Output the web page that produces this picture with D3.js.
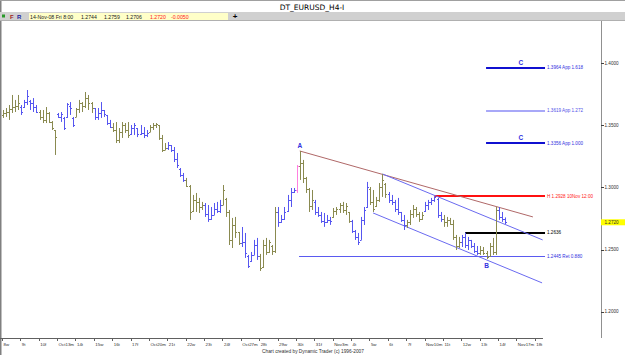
<!DOCTYPE html>
<html>
<head>
<meta charset="utf-8">
<script src="https://cdn.jsdelivr.net/npm/d3@7"></script>
<style>
  body { margin: 0; background: #fff; }
  svg { display: block; font-family: "Liberation Sans", Arial, sans-serif; }
</style>
</head>
<body>
<svg id="chart" width="625" height="355"></svg>
<script>
const width = 625, height = 355;

// Time axis labels, one per trading day
const dayLabels = ["8w", "9t", "10f", "Oct13m", "14t", "15w", "16t", "17f", "Oct20m", "21t",
  "22w", "23t", "24f", "Oct27m", "28t", "29w", "30t", "31f", "Nov3m", "4t",
  "5w", "6t", "7f", "Nov10m", "11t", "12w", "13t", "14f", "Nov17m", "18t"];

// 4-hour bars grouped by day: [open, high, low, close]
const bars = [
  [[1.3580,1.3624,1.3560,1.3600],[1.3600,1.3640,1.3568,1.3610],[1.3610,1.3664,1.3544,1.3630],[1.3630,1.3745,1.3600,1.3650],[1.3650,1.3705,1.3608,1.3660],[1.3660,1.3745,1.3624,1.3680]],
  [[1.3650,1.3664,1.3584,1.3610],[1.3645,1.3705,1.3640,1.3690],[1.3690,1.3785,1.3664,1.3740],[1.3700,1.3705,1.3624,1.3680],[1.3680,1.3720,1.3608,1.3650],[1.3650,1.3664,1.3600,1.3610]],
  [[1.3610,1.3624,1.3544,1.3570],[1.3570,1.3624,1.3519,1.3540],[1.3540,1.3648,1.3519,1.3600],[1.3600,1.3608,1.3519,1.3530],[1.3530,1.3535,1.3463,1.3480],[1.3463,1.3463,1.3262,1.3405]],
  [[1.3590,1.3600,1.3560,1.3570],[1.3570,1.3608,1.3528,1.3590],[1.3560,1.3568,1.3463,1.3480],[1.3570,1.3680,1.3560,1.3670],[1.3660,1.3688,1.3584,1.3640],[1.3560,1.3568,1.3487,1.3500]],
  [[1.3570,1.3640,1.3568,1.3630],[1.3630,1.3705,1.3600,1.3680],[1.3680,1.3688,1.3608,1.3660],[1.3660,1.3769,1.3640,1.3720],[1.3720,1.3745,1.3624,1.3680],[1.3680,1.3688,1.3600,1.3640]],
  [[1.3640,1.3640,1.3544,1.3570],[1.3570,1.3640,1.3544,1.3600],[1.3600,1.3688,1.3560,1.3620],[1.3620,1.3624,1.3568,1.3590],[1.3580,1.3584,1.3503,1.3520],[1.3520,1.3544,1.3479,1.3490]],
  [[1.3490,1.3519,1.3447,1.3460],[1.3460,1.3527,1.3358,1.3380],[1.3380,1.3479,1.3358,1.3450],[1.3450,1.3527,1.3399,1.3500],[1.3500,1.3519,1.3439,1.3460],[1.3460,1.3527,1.3399,1.3420]],
  [[1.3430,1.3503,1.3423,1.3480],[1.3480,1.3519,1.3423,1.3500],[1.3479,1.3479,1.3406,1.3430],[1.3430,1.3503,1.3423,1.3440],[1.3440,1.3487,1.3398,1.3420],[1.3420,1.3463,1.3406,1.3440]],
  [[1.3450,1.3503,1.3447,1.3490],[1.3490,1.3519,1.3463,1.3500],[1.3500,1.3519,1.3479,1.3510],[1.3500,1.3503,1.3383,1.3400],[1.3400,1.3423,1.3286,1.3300],[1.3305,1.3358,1.3302,1.3320]],
  [[1.3320,1.3366,1.3302,1.3340],[1.3340,1.3342,1.3286,1.3300],[1.3300,1.3326,1.3205,1.3230],[1.3230,1.3278,1.3157,1.3180],[1.3150,1.3157,1.3085,1.3100],[1.3100,1.3117,1.3045,1.3060]],
  [[1.3060,1.3077,1.3004,1.3010],[1.3010,1.3020,1.2739,1.2800],[1.2810,1.2940,1.2803,1.2900],[1.2900,1.2956,1.2803,1.2880],[1.2880,1.2916,1.2795,1.2840],[1.2840,1.2884,1.2819,1.2860]],
  [[1.2860,1.2875,1.2763,1.2790],[1.2790,1.2859,1.2723,1.2750],[1.2750,1.2843,1.2739,1.2780],[1.2780,1.2875,1.2779,1.2830],[1.2830,1.2884,1.2795,1.2810],[1.2810,1.2900,1.2795,1.2860]],
  [[1.2860,1.3020,1.2859,1.2980],[1.2910,1.2916,1.2763,1.2800],[1.2800,1.2819,1.2537,1.2580],[1.2580,1.2755,1.2513,1.2700],[1.2700,1.2763,1.2594,1.2640],[1.2640,1.2642,1.2537,1.2550]],
  [[1.2550,1.2682,1.2521,1.2560],[1.2560,1.2634,1.2433,1.2470],[1.2450,1.2457,1.2352,1.2370],[1.2410,1.2481,1.2401,1.2460],[1.2460,1.2578,1.2457,1.2540],[1.2540,1.2594,1.2417,1.2450]],
  [[1.2450,1.2465,1.2328,1.2350],[1.2360,1.2578,1.2352,1.2540],[1.2540,1.2594,1.2457,1.2480],[1.2480,1.2578,1.2473,1.2560],[1.2530,1.2537,1.2457,1.2490],[1.2490,1.2843,1.2473,1.2800]],
  [[1.2800,1.2843,1.2683,1.2720],[1.2720,1.2779,1.2715,1.2750],[1.2750,1.2843,1.2739,1.2800],[1.2810,1.2940,1.2803,1.2900],[1.2900,1.2996,1.2843,1.2960],[1.2960,1.2996,1.2956,1.2980]],
  [[1.2980,1.3181,1.2956,1.3170],[1.3170,1.3294,1.3061,1.3200],[1.3200,1.3222,1.3036,1.3080],[1.3080,1.3085,1.2956,1.2990],[1.2990,1.2996,1.2803,1.2850],[1.2850,1.2980,1.2819,1.2900]],
  [[1.2880,1.2900,1.2779,1.2800],[1.2800,1.2843,1.2763,1.2780],[1.2780,1.2803,1.2715,1.2730],[1.2730,1.2795,1.2683,1.2720],[1.2720,1.2779,1.2715,1.2740],[1.2740,1.2763,1.2699,1.2730]],
  [[1.2760,1.2835,1.2755,1.2810],[1.2810,1.2843,1.2779,1.2830],[1.2830,1.2875,1.2795,1.2860],[1.2860,1.2884,1.2795,1.2820],[1.2820,1.2875,1.2779,1.2850],[1.2800,1.2803,1.2715,1.2730]],
  [[1.2730,1.2739,1.2634,1.2650],[1.2650,1.2658,1.2578,1.2600],[1.2600,1.2634,1.2537,1.2560],[1.2580,1.2763,1.2578,1.2740],[1.2740,1.2843,1.2698,1.2820],[1.2840,1.3045,1.2835,1.3000]],
  [[1.2990,1.3004,1.2859,1.2880],[1.2880,1.2980,1.2803,1.2830],[1.2850,1.2924,1.2843,1.2900],[1.2900,1.3036,1.2884,1.3000],[1.3000,1.3109,1.2924,1.3060],[1.3030,1.3036,1.2916,1.2950]],
  [[1.2950,1.2964,1.2875,1.2900],[1.2900,1.2940,1.2859,1.2880],[1.2880,1.2900,1.2803,1.2830],[1.2830,1.2916,1.2779,1.2800],[1.2800,1.2803,1.2723,1.2740],[1.2740,1.2779,1.2658,1.2700]],
  [[1.2700,1.2739,1.2674,1.2720],[1.2720,1.2819,1.2698,1.2790],[1.2790,1.2859,1.2755,1.2830],[1.2830,1.2843,1.2763,1.2790],[1.2790,1.2803,1.2723,1.2750],[1.2750,1.2803,1.2739,1.2780]],
  [[1.2810,1.2884,1.2803,1.2860],[1.2860,1.2900,1.2819,1.2880],[1.2880,1.2916,1.2859,1.2900],[1.2900,1.2928,1.2884,1.2920],[1.2910,1.2916,1.2755,1.2780],[1.2780,1.2803,1.2723,1.2750]],
  [[1.2750,1.2779,1.2683,1.2720],[1.2720,1.2763,1.2683,1.2740],[1.2740,1.2755,1.2699,1.2710],[1.2710,1.2739,1.2578,1.2600],[1.2600,1.2618,1.2497,1.2530],[1.2530,1.2602,1.2513,1.2560]],
  [[1.2560,1.2618,1.2521,1.2600],[1.2600,1.2636,1.2513,1.2540],[1.2540,1.2602,1.2497,1.2580],[1.2575,1.2578,1.2513,1.2530],[1.2530,1.2553,1.2473,1.2490],[1.2490,1.2529,1.2457,1.2470]],
  [[1.2470,1.2529,1.2457,1.2500],[1.2500,1.2521,1.2457,1.2470],[1.2470,1.2489,1.2424,1.2440],[1.2450,1.2553,1.2441,1.2530],[1.2530,1.2594,1.2457,1.2480],[1.2480,1.2843,1.2457,1.2820]],
  [[1.2820,1.2843,1.2739,1.2760],[1.2760,1.2803,1.2723,1.2744],[1.2744,1.2759,1.2706,1.2720]]
];

// highlighted bar (day, bar)
const markedBar = [16, 0];

// trend lines: [dayTime, price] pairs
const resistanceLine = [[16.21, 1.3294], [28.9, 1.2763]];
const channelUpper = [[20.71, 1.3109], [29.43, 1.2578]];
const channelLower = [[20.2, 1.2795], [29.4, 1.2232]];

// horizontal levels
const levelPrices = [1.3964, 1.3619, 1.3356, 1.2928, 1.2636, 1.2445];
const levelStarts = [26.35, 26.35, 26.35, 23.54, 25.21, 16.17];
const levelTexts = ["1.3964 App 1.618", "1.3619 App 1.272", "1.3356 App 1.000",
  "H 1.2928 10Nov 12:00", "1.2636", "1.2445 Ret 0.880"];
const levelEnd = 29.56;

// wave labels
const waveText = ["A", "B", "C", "C"];
const waveTime = [16.21, 26.375, 28.25, 28.25];
const wavePrice = [1.3294, 1.2424, 1.3964, 1.3356];

const yTicks = [1.40, 1.35, 1.30, 1.25, 1.20];
const lastClose = 1.2720;
const infoFields = ["14-Nov-08 Fri 8:00", "1.2744", "1.2759", "1.2706", "1.2720", "-0.0050"];

const olive = "#8a8a50", blue = "#5656f0";
const levelColors = ["#1010d0", "#a8a8f8", "#1010d0", "#ff1010", "#000000", "#5a5af0"];
const levelWidths = [2, 2, 2, 2, 2, 1];
const levelTextColors = ["#3030e0", "#5050e8", "#3030e0", "#ff2020", "#000000", "#3030e0"];

const svg = d3.select("#chart");

const x = d3.scaleLinear().domain([0, 29]).range([2, 2 + 29 * 18.37]);
const y = d3.scaleLinear().domain([1.2, 1.4]).range([311.7, 63.3]);
const fmt = d3.format(".4f");

// frame
svg.append("line").attr("x1", 0.5).attr("x2", 0.5).attr("y1", 0).attr("y2", height)
  .attr("stroke", "#808080").attr("stroke-width", 2);
svg.append("line").attr("x1", 0).attr("x2", width).attr("y1", 0.5).attr("y2", 0.5)
  .attr("stroke", "#a0a0a0");

// title
svg.append("text").attr("x", 312).attr("y", 10).attr("text-anchor", "middle")
  .attr("font-family", "DejaVu Sans").attr("font-size", 7.5).attr("fill", "#000")
  .text("DT_EURUSD_H4-I");

// info bar
svg.append("rect").attr("x", 0).attr("y", 12).attr("width", width).attr("height", 8.5).attr("fill", "#d0d0d0");
svg.append("line").attr("x1", 0).attr("x2", width).attr("y1", 20.5).attr("y2", 20.5).attr("stroke", "#b0b0b0");
svg.append("rect").attr("x", 2).attr("y", 14.5).attr("width", 3).attr("height", 3).attr("fill", "#2a9a2a");
svg.append("text").attr("x", 10).attr("y", 18.5).attr("font-size", 6).attr("font-weight", "bold").attr("fill", "#a02020").text("F");
svg.append("text").attr("x", 17).attr("y", 18.5).attr("font-size", 6).attr("font-weight", "bold").attr("fill", "#2020a0").text("R");
svg.append("rect").attr("x", 29).attr("y", 13).attr("width", 199).attr("height", 7).attr("fill", "#ffffc8");
const infoX = [30, 81, 104, 126, 150, 171];
svg.append("g").selectAll("text").data(infoFields).join("text")
  .attr("x", (d, i) => infoX[i]).attr("y", 18.6)
  .attr("font-size", 5.2)
  .attr("fill", (d, i) => i >= 4 ? "#ff2020" : "#202020")
  .text(d => d);
svg.append("text").attr("x", 235).attr("y", 19).attr("text-anchor", "middle")
  .attr("font-size", 8).attr("font-weight", "bold").text("+");

// right price axis
svg.append("line").attr("x1", 601.5).attr("x2", 601.5).attr("y1", 21).attr("y2", 338)
  .attr("stroke", "#909090");
const yAxis = svg.append("g");
yAxis.selectAll("line").data(yTicks).join("line")
  .attr("x1", 601).attr("x2", 604).attr("y1", d => Math.round(y(d)) + 0.5).attr("y2", d => Math.round(y(d)) + 0.5)
  .attr("stroke", "#404040");
yAxis.selectAll("text").data(yTicks).join("text")
  .attr("x", 604.5).attr("y", d => y(d) + 1.7)
  .attr("font-size", 4.6).attr("fill", "#303030")
  .text(d => fmt(d));

// current price tag
svg.append("rect").attr("x", 601).attr("y", y(lastClose) - 3).attr("width", 24).attr("height", 6).attr("fill", "#ffff00");
svg.append("text").attr("x", 604.5).attr("y", y(lastClose) + 1.7).attr("font-size", 4.6).attr("fill", "#303030")
  .text(fmt(lastClose));

// bottom time axis
svg.append("line").attr("x1", 0).attr("x2", x(29.45)).attr("y1", 338.5).attr("y2", 338.5).attr("stroke", "#606060");
const xAxis = svg.append("g");
xAxis.selectAll("line").data(dayLabels).join("line")
  .attr("x1", (d, i) => Math.round(x(i)) + 0.5).attr("x2", (d, i) => Math.round(x(i)) + 0.5)
  .attr("y1", 338).attr("y2", 341).attr("stroke", "#606060");
xAxis.selectAll("text").data(dayLabels).join("text")
  .attr("x", (d, i) => x(i) + 1.5).attr("y", 345.5)
  .attr("font-size", 4.4).attr("fill", "#303030")
  .text(d => d);

svg.append("text").attr("x", 313).attr("y", 353).attr("text-anchor", "middle")
  .attr("font-size", 4.8).attr("fill", "#303030")
  .text("Chart created by Dynamic Trader  (c) 1996-2007");

// horizontal levels
const levelG = svg.append("g");
levelPrices.forEach((p, i) => {
  const yy = Math.round(y(p)) + (levelWidths[i] === 1 ? 0.5 : 0);
  levelG.append("line")
    .attr("x1", x(levelStarts[i])).attr("x2", x(levelEnd))
    .attr("y1", yy).attr("y2", yy)
    .attr("stroke", levelColors[i]).attr("stroke-width", levelWidths[i]);
  levelG.append("text")
    .attr("x", x(levelEnd) + 2).attr("y", y(p) + 1.7)
    .attr("font-size", 4.6).attr("fill", levelTextColors[i])
    .text(levelTexts[i]);
});

// trend lines
const lineGen = d3.line().x(d => x(d[0])).y(d => y(d[1]));
svg.append("path").attr("d", lineGen(resistanceLine)).attr("fill", "none").attr("stroke", "#b06868").attr("stroke-width", 1);
svg.append("path").attr("d", lineGen(channelUpper)).attr("fill", "none").attr("stroke", "#6a6af0").attr("stroke-width", 1);
svg.append("path").attr("d", lineGen(channelLower)).attr("fill", "none").attr("stroke", "#6a6af0").attr("stroke-width", 1);

// OHLC bars
const barG = svg.append("g");
bars.forEach((day, d) => {
  day.forEach((b, i) => {
    const [o, h, l, c] = b;
    const bx = Math.round(x(d + (i + 0.25) / 6)) + 0.5;
    let col = d % 2 === 0 ? olive : blue;
    if (d === markedBar[0] && i === markedBar[1]) col = "#ff80e0";
    barG.append("line").attr("x1", bx).attr("x2", bx).attr("y1", y(h)).attr("y2", y(l))
      .attr("stroke", col).attr("stroke-width", 1);
    barG.append("line").attr("x1", bx - 1.5).attr("x2", bx).attr("y1", Math.round(y(o)) + 0.5).attr("y2", Math.round(y(o)) + 0.5)
      .attr("stroke", col).attr("stroke-width", 1);
    barG.append("line").attr("x1", bx).attr("x2", bx + 1.5).attr("y1", Math.round(y(c)) + 0.5).attr("y2", Math.round(y(c)) + 0.5)
      .attr("stroke", col).attr("stroke-width", 1);
  });
});

// wave labels
svg.append("g").selectAll("text").data(waveText).join("text")
  .attr("x", (d, i) => x(waveTime[i]))
  .attr("y", (d, i) => d === "B" ? y(wavePrice[i]) + 9 : y(wavePrice[i]) - 3)
  .attr("text-anchor", "middle")
  .attr("font-size", 6.5).attr("font-weight", "bold").attr("fill", "#3030e0")
  .text(d => d);
</script>
</body>
</html>
